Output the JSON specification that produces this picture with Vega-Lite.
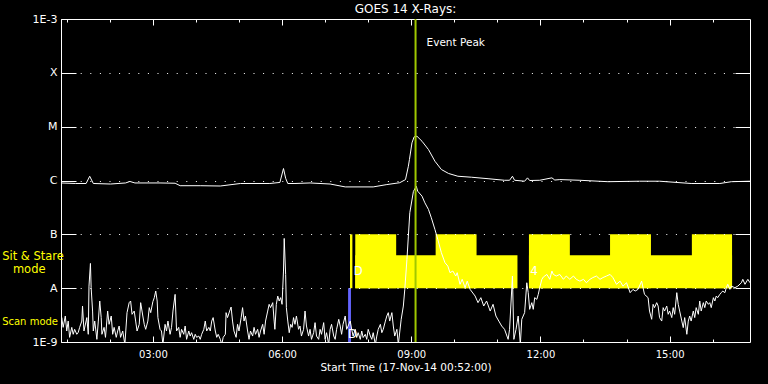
{
  "$schema": "https://vega.github.io/schema/vega-lite/v6.json",
  "width": 689,
  "height": 323,
  "autosize": {"type": "none"},
  "padding": {"left": 61, "top": 19, "right": 18, "bottom": 42},
  "background": "black",
  "title": {"text": "GOES 14 X-Rays:", "color": "white", "font": "DejaVu Sans", "fontSize": 12, "fontWeight": "normal", "offset": -3},
  "config": {
    "view": {"stroke": "white", "strokeWidth": 1},
    "axis": {"labelColor": "white", "tickColor": "white", "labelFont": "DejaVu Sans", "titleFont": "DejaVu Sans", "titleColor": "white", "domain": false, "grid": false, "tickWidth": 1, "labelFontSize": 10, "titleFontWeight": "normal", "labelFlush": false, "labelOverlap": false}
  },
  "datasets": {
    "sitstare": [
      {"t1": 402.7, "t2": 406, "top": 1e-7, "bottom": 1e-8},
      {"t1": 410, "t2": 636, "top": 4.1e-8, "bottom": 1e-8},
      {"t1": 652, "t2": 935, "top": 4.1e-8, "bottom": 1e-8},
      {"t1": 410, "t2": 467, "top": 1e-7, "bottom": 1e-8},
      {"t1": 522, "t2": 579, "top": 1e-7, "bottom": 1e-8},
      {"t1": 652, "t2": 709, "top": 1e-7, "bottom": 1e-8},
      {"t1": 765, "t2": 822, "top": 1e-7, "bottom": 1e-8},
      {"t1": 879, "t2": 935, "top": 1e-7, "bottom": 1e-8}
    ],
    "scan": [
      {"t1": 400, "t2": 404, "top": 1e-8, "bottom": 1e-9}
    ],
    "long": [
      {"t":0,"flux":9.0e-7},{"t":20,"flux":8.8e-7},{"t":35,"flux":8.8e-7},{"t":40,"flux":1.2e-6},{"t":45,"flux":8.8e-7},{"t":69,"flux":8.6e-7},{"t":90,"flux":9.0e-7},{"t":96,"flux":9.6e-7},{"t":103,"flux":9.0e-7},{"t":138,"flux":9.0e-7},{"t":159,"flux":8.9e-7},{"t":166,"flux":8.0e-7},{"t":194,"flux":8.0e-7},{"t":222,"flux":7.9e-7},{"t":250,"flux":8.8e-7},{"t":291,"flux":8.8e-7},{"t":305,"flux":9.2e-7},{"t":310,"flux":1.67e-6},{"t":313,"flux":1.1e-6},{"t":316,"flux":8.8e-7},{"t":326,"flux":8.8e-7},{"t":347,"flux":9.0e-7},{"t":375,"flux":8.6e-7},{"t":396,"flux":7.6e-7},{"t":435,"flux":7.6e-7},{"t":454,"flux":8.4e-7},{"t":472,"flux":9.1e-7},{"t":480,"flux":1.04e-6},{"t":484,"flux":1.84e-6},{"t":485.5,"flux":2.45e-6},{"t":489,"flux":5.0e-6},{"t":492,"flux":6.47e-6},{"t":496,"flux":6.64e-6},{"t":503,"flux":5.36e-6},{"t":512,"flux":3.76e-6},{"t":521,"flux":2.28e-6},{"t":530,"flux":1.6e-6},{"t":540,"flux":1.35e-6},{"t":553,"flux":1.2e-6},{"t":572,"flux":1.15e-6},{"t":595,"flux":1.08e-6},{"t":618,"flux":1.01e-6},{"t":625,"flux":1.01e-6},{"t":629,"flux":1.2e-6},{"t":632,"flux":1.01e-6},{"t":646,"flux":9.7e-7},{"t":650,"flux":1.12e-6},{"t":653,"flux":1.0e-6},{"t":667,"flux":1.01e-6},{"t":684,"flux":1.12e-6},{"t":688,"flux":1.02e-6},{"t":695,"flux":1.04e-6},{"t":723,"flux":1.01e-6},{"t":762,"flux":9.5e-7},{"t":806,"flux":9.7e-7},{"t":834,"flux":9.7e-7},{"t":878,"flux":8.8e-7},{"t":918,"flux":8.8e-7},{"t":934,"flux":9.5e-7},{"t":960,"flux":9.7e-7}
    ],
    "short": [
      {"t":0,"flux":2.0e-9},{"t":1,"flux":2.84e-9},{"t":3,"flux":1.87e-9},{"t":6,"flux":3.04e-9},{"t":8,"flux":1.6e-9},{"t":10,"flux":2.45e-9},{"t":12,"flux":1.22e-9},{"t":15,"flux":1.87e-9},{"t":17,"flux":1.39e-9},{"t":19,"flux":1.72e-9},{"t":22,"flux":1.39e-9},{"t":24,"flux":1.51e-9},{"t":26,"flux":1.87e-9},{"t":29,"flux":2.45e-9},{"t":30,"flux":4.66e-9},{"t":32,"flux":1.6e-9},{"t":36,"flux":2.84e-9},{"t":38,"flux":1.39e-9},{"t":39,"flux":1.09e-8},{"t":41,"flux":2.88e-8},{"t":42,"flux":1.02e-8},{"t":44,"flux":3.76e-9},{"t":45,"flux":1.6e-9},{"t":47,"flux":2.45e-9},{"t":50,"flux":1.12e-9},{"t":52,"flux":2.45e-9},{"t":54,"flux":5.77e-9},{"t":56,"flux":2.84e-9},{"t":57,"flux":1.39e-9},{"t":60,"flux":1.87e-9},{"t":62,"flux":1.22e-9},{"t":65,"flux":3.76e-9},{"t":67,"flux":2.13e-9},{"t":70,"flux":3.04e-9},{"t":72,"flux":1.39e-9},{"t":74,"flux":1.87e-9},{"t":77,"flux":1.22e-9},{"t":79,"flux":1.6e-9},{"t":81,"flux":1.98e-9},{"t":83,"flux":1.22e-9},{"t":86,"flux":1.6e-9},{"t":89,"flux":0.9e-9},{"t":92,"flux":3.51e-9},{"t":95,"flux":5.38e-9},{"t":97,"flux":5.77e-9},{"t":99,"flux":3.27e-9},{"t":102,"flux":3.76e-9},{"t":104,"flux":2.45e-9},{"t":106,"flux":1.6e-9},{"t":109,"flux":2.13e-9},{"t":111,"flux":5.38e-9},{"t":114,"flux":3.04e-9},{"t":116,"flux":2.13e-9},{"t":118,"flux":1.72e-9},{"t":121,"flux":2.45e-9},{"t":123,"flux":4.35e-9},{"t":125,"flux":3.51e-9},{"t":128,"flux":5.62e-9},{"t":130,"flux":6.66e-9},{"t":132,"flux":8.84e-9},{"t":134,"flux":5.77e-9},{"t":135,"flux":2.84e-9},{"t":138,"flux":1.72e-9},{"t":140,"flux":1.6e-9},{"t":142,"flux":0.9e-9},{"t":145,"flux":2.13e-9},{"t":147,"flux":1.6e-9},{"t":149,"flux":2.45e-9},{"t":152,"flux":1.39e-9},{"t":154,"flux":1.87e-9},{"t":156,"flux":3.76e-9},{"t":159,"flux":7.67e-9},
      {"t":161,"flux":1.6e-9},{"t":164,"flux":1.87e-9},{"t":166,"flux":1.22e-9},{"t":168,"flux":1.72e-9},{"t":171,"flux":1.39e-9},{"t":173,"flux":1.98e-9},{"t":175,"flux":1.12e-9},{"t":178,"flux":1.6e-9},{"t":180,"flux":1.29e-9},{"t":182,"flux":1.49e-9},{"t":185,"flux":1.12e-9},{"t":187,"flux":1.39e-9},{"t":189,"flux":1.22e-9},{"t":192,"flux":1.29e-9},{"t":194,"flux":1.12e-9},{"t":196,"flux":1.39e-9},{"t":199,"flux":1.72e-9},{"t":201,"flux":2.45e-9},{"t":203,"flux":1.6e-9},{"t":206,"flux":1.87e-9},{"t":208,"flux":1.6e-9},{"t":210,"flux":2.45e-9},{"t":212,"flux":2.84e-9},{"t":215,"flux":1.6e-9},{"t":217,"flux":1.22e-9},{"t":219,"flux":1.39e-9},{"t":222,"flux":1.12e-9},{"t":224,"flux":0.9e-9},{"t":226,"flux":1.22e-9},{"t":229,"flux":1.39e-9},{"t":230,"flux":3.51e-9},{"t":232,"flux":2.84e-9},{"t":235,"flux":3.76e-9},{"t":237,"flux":4.46e-9},{"t":239,"flux":2.45e-9},{"t":241,"flux":1.6e-9},{"t":244,"flux":1.22e-9},{"t":246,"flux":2.13e-9},{"t":248,"flux":1.6e-9},{"t":251,"flux":2.84e-9},{"t":253,"flux":4.35e-9},{"t":255,"flux":2.45e-9},{"t":257,"flux":3.04e-9},{"t":260,"flux":1.6e-9},{"t":262,"flux":1.12e-9},{"t":264,"flux":1.6e-9},{"t":267,"flux":1.29e-9},{"t":269,"flux":1.87e-9},{"t":271,"flux":1.39e-9},{"t":274,"flux":1.72e-9},{"t":276,"flux":1.22e-9},{"t":278,"flux":1.6e-9},{"t":281,"flux":2.13e-9},{"t":283,"flux":1.39e-9},{"t":285,"flux":2.45e-9},{"t":288,"flux":3.76e-9},{"t":290,"flux":5.01e-9},{"t":292,"flux":4.35e-9},{"t":295,"flux":5.38e-9},{"t":297,"flux":2.45e-9},{"t":298,"flux":1.72e-9},{"t":300,"flux":5.01e-9},{"t":302,"flux":7.14e-9},{"t":304,"flux":5.77e-9},{"t":306,"flux":6.66e-9},{"t":308,"flux":5.01e-9},{"t":310,"flux":2.08e-8},{"t":311,"flux":8.39e-8},{"t":313,"flux":1.8e-8},{"t":314,"flux":4.35e-9},{"t":316,"flux":2.45e-9},{"t":318,"flux":1.49e-9},{"t":320,"flux":2.13e-9},{"t":322,"flux":1.87e-9},{"t":324,"flux":2.84e-9},{"t":326,"flux":2.13e-9},
      {"t":328,"flux":3.04e-9},{"t":331,"flux":1.72e-9},{"t":333,"flux":1.98e-9},{"t":335,"flux":1.29e-9},{"t":338,"flux":1.72e-9},{"t":340,"flux":3.76e-9},{"t":342,"flux":1.98e-9},{"t":345,"flux":1.29e-9},{"t":347,"flux":1.72e-9},{"t":349,"flux":1.12e-9},{"t":352,"flux":1.49e-9},{"t":354,"flux":2.29e-9},{"t":356,"flux":1.29e-9},{"t":359,"flux":1.12e-9},{"t":361,"flux":1.72e-9},{"t":363,"flux":1.39e-9},{"t":366,"flux":2.29e-9},{"t":368,"flux":1.12e-9},{"t":370,"flux":1.49e-9},{"t":373,"flux":0.9e-9},{"t":375,"flux":1.72e-9},{"t":377,"flux":2.13e-9},{"t":380,"flux":1.29e-9},{"t":382,"flux":1.12e-9},{"t":384,"flux":1.72e-9},{"t":387,"flux":2.64e-9},{"t":389,"flux":1.98e-9},{"t":391,"flux":1.39e-9},{"t":393,"flux":2.13e-9},{"t":396,"flux":3.04e-9},{"t":398,"flux":1.72e-9},{"t":400,"flux":1.98e-9},{"t":403,"flux":2.45e-9},{"t":405,"flux":1.72e-9},{"t":407,"flux":1.29e-9},{"t":410,"flux":1.72e-9},{"t":412,"flux":1.21e-9},{"t":414,"flux":1.49e-9},{"t":417,"flux":1.12e-9},{"t":419,"flux":1.6e-9},{"t":421,"flux":1.21e-9},{"t":424,"flux":1.39e-9},{"t":426,"flux":1.12e-9},{"t":428,"flux":1.72e-9},{"t":431,"flux":1.29e-9},{"t":433,"flux":1.12e-9},{"t":435,"flux":1.49e-9},{"t":438,"flux":0.9e-9},{"t":440,"flux":1.29e-9},{"t":442,"flux":1.72e-9},{"t":445,"flux":2.13e-9},{"t":447,"flux":1.49e-9},{"t":449,"flux":1.72e-9},{"t":452,"flux":2.45e-9},{"t":454,"flux":3.04e-9},{"t":456,"flux":3.51e-9},{"t":458,"flux":2.45e-9},{"t":461,"flux":3.51e-9},{"t":463,"flux":1.98e-9},{"t":465,"flux":1.29e-9},{"t":468,"flux":1.72e-9},{"t":470,"flux":0.9e-9},
      {"t":474,"flux":2.64e-9},{"t":477,"flux":4.66e-9},{"t":479,"flux":9.5e-9},{"t":482,"flux":3.42e-8},{"t":484,"flux":9.26e-8},{"t":486,"flux":2.52e-7},{"t":491,"flux":6.25e-7},{"t":495,"flux":7.84e-7},{"t":497,"flux":6.33e-7},{"t":503,"flux":5.12e-7},{"t":507,"flux":3.85e-7},{"t":512,"flux":2.9e-7},{"t":516,"flux":2.03e-7},{"t":521,"flux":1.23e-7},{"t":525,"flux":8.04e-8},{"t":530,"flux":4.56e-8},{"t":535,"flux":2.97e-8},{"t":539,"flux":2.57e-8},{"t":542,"flux":1.94e-8},{"t":546,"flux":2.08e-8},{"t":550,"flux":1.68e-8},{"t":552,"flux":1.94e-8},{"t":556,"flux":1.18e-8},{"t":559,"flux":1.46e-8},{"t":563,"flux":1.02e-8},{"t":566,"flux":1.35e-8},{"t":570,"flux":9.5e-9},{"t":577,"flux":7.14e-9},{"t":581,"flux":5.38e-9},{"t":585,"flux":6.66e-9},{"t":589,"flux":4.66e-9},{"t":593,"flux":5.77e-9},{"t":598,"flux":3.76e-9},{"t":602,"flux":5.01e-9},{"t":606,"flux":3.04e-9},{"t":610,"flux":2.45e-9},{"t":614,"flux":1.98e-9},{"t":618,"flux":1.72e-9},{"t":623,"flux":1.12e-9},{"t":625,"flux":1.72e-9},{"t":629,"flux":1.68e-8},{"t":631,"flux":1.12e-9},{"t":634,"flux":1.72e-9},{"t":637,"flux":3.04e-9},{"t":640,"flux":0.9e-9},{"t":642,"flux":2.64e-9},{"t":646,"flux":3.51e-9},{"t":649,"flux":1.26e-8},{"t":651,"flux":8.25e-9},{"t":653,"flux":4.04e-9},{"t":656,"flux":5.38e-9},{"t":658,"flux":4.04e-9},{"t":660,"flux":6.66e-9},{"t":663,"flux":6.2e-9},{"t":665,"flux":7.67e-9},{"t":667,"flux":1.02e-8},{"t":670,"flux":1.46e-8},{"t":672,"flux":1.61e-8},{"t":677,"flux":1.8e-8},{"t":681,"flux":1.46e-8},{"t":684,"flux":2.08e-8},{"t":686,"flux":1.8e-8},{"t":690,"flux":1.68e-8},{"t":695,"flux":1.8e-8},{"t":700,"flux":1.46e-8},{"t":704,"flux":1.68e-8},{"t":709,"flux":1.46e-8},{"t":714,"flux":1.68e-8},{"t":718,"flux":1.46e-8},{"t":723,"flux":1.35e-8},{"t":728,"flux":1.46e-8},{"t":732,"flux":1.26e-8},{"t":737,"flux":1.46e-8},{"t":741,"flux":1.57e-8},{"t":746,"flux":1.68e-8},{"t":751,"flux":1.46e-8},{"t":755,"flux":1.57e-8},{"t":760,"flux":1.68e-8},{"t":765,"flux":1.8e-8},{"t":769,"flux":1.57e-8},{"t":774,"flux":1.18e-8},{"t":779,"flux":1.35e-8},{"t":783,"flux":1.09e-8},{"t":788,"flux":1.26e-8},{"t":793,"flux":8.25e-9},{"t":797,"flux":9.5e-9},{"t":800,"flux":8.84e-9},{"t":804,"flux":9.5e-9},{"t":809,"flux":1.35e-8},{"t":813,"flux":7.67e-9},{"t":818,"flux":6.66e-9},{"t":820,"flux":3.76e-9},{"t":823,"flux":2.64e-9},{"t":825,"flux":5.01e-9},{"t":827,"flux":4.35e-9},{"t":830,"flux":5.38e-9},{"t":832,"flux":4.66e-9},{"t":834,"flux":2.84e-9},{"t":837,"flux":2.45e-9},{"t":839,"flux":4.35e-9},{"t":841,"flux":3.76e-9},{"t":844,"flux":4.66e-9},{"t":846,"flux":3.27e-9},{"t":848,"flux":3.76e-9},{"t":851,"flux":2.84e-9},{"t":853,"flux":4.35e-9},{"t":855,"flux":3.27e-9},{"t":858,"flux":8.25e-9},{"t":860,"flux":5.01e-9},{"t":862,"flux":3.76e-9},{"t":865,"flux":2.45e-9},{"t":867,"flux":1.85e-9},{"t":869,"flux":2.84e-9},{"t":872,"flux":1.39e-9},{"t":874,"flux":2.45e-9},{"t":876,"flux":3.04e-9},{"t":878,"flux":2.45e-9},{"t":881,"flux":3.76e-9},{"t":883,"flux":2.84e-9},{"t":885,"flux":4.35e-9},{"t":888,"flux":3.27e-9},{"t":890,"flux":5.77e-9},{"t":892,"flux":3.76e-9},{"t":895,"flux":5.38e-9},{"t":897,"flux":4.35e-9},{"t":899,"flux":5.77e-9},{"t":902,"flux":5.01e-9},{"t":904,"flux":5.38e-9},{"t":906,"flux":4.35e-9},{"t":909,"flux":6.66e-9},{"t":911,"flux":5.77e-9},{"t":913,"flux":7.14e-9},{"t":915,"flux":6.66e-9},{"t":918,"flux":7.67e-9},{"t":920,"flux":8.25e-9},{"t":922,"flux":8.84e-9},{"t":925,"flux":8.25e-9},{"t":927,"flux":1.02e-8},{"t":929,"flux":1.18e-8},{"t":932,"flux":9.5e-9},{"t":934,"flux":1.09e-8},{"t":939,"flux":1.02e-8},{"t":943,"flux":1.09e-8},{"t":948,"flux":1.26e-8},{"t":950,"flux":1.46e-8},{"t":953,"flux":1.18e-8},{"t":957,"flux":1.46e-8},{"t":960,"flux":1.26e-8}
    ],
    "peak": [{"t": 494, "flux": 3.6e-4, "label": "Event Peak"}],
    "modelabels": [
      {"label": "Sit & Stare", "t": -82, "flux": 3.73e-8},
      {"label": "mode", "t": -67, "flux": 2.14e-8},
      {"label": "Scan mode", "t": -82, "flux": 2.32e-9}
    ],
    "marks": [
      {"label": "D", "t": 414, "flux": 2.05e-8},
      {"label": "D", "t": 406, "flux": 1.42e-9},
      {"label": "4", "t": 659, "flux": 2.08e-8}
    ]
  },
  "layer": [
    {
      "data": {"name": "sitstare"},
      "mark": {"type": "rect", "color": "#ffff00"},
      "encoding": {
        "x": {"field": "t1", "type": "quantitative", "scale": {"domain": [0, 960], "nice": false, "zero": false},
              "axis": {"orient": "bottom", "values": [128, 308, 488, 668, 848], "tickSize": -6, "labelPadding": 13,
                       "labelExpr": "(floor((datum.value+52)/60) < 10 ? '0' : '') + floor((datum.value+52)/60) + ':00'",
                       "title": "Start Time (17-Nov-14 00:52:00)", "titleFontSize": 10.5, "titlePadding": 3}},
        "x2": {"field": "t2"},
        "y": {"field": "top", "type": "quantitative", "scale": {"type": "log", "domain": [1e-9, 1e-3], "nice": false},
              "axis": {"orient": "left", "values": [1e-9, 1e-8, 1e-7, 1e-6, 1e-5, 1e-4, 1e-3], "tickSize": -15, "labelPadding": 19, "labelFontSize": 11,
                       "labelExpr": "datum.value < 5e-9 ? '1E-9' : datum.value < 5e-8 ? 'A' : datum.value < 5e-7 ? 'B' : datum.value < 5e-6 ? 'C' : datum.value < 5e-5 ? 'M' : datum.value < 5e-4 ? 'X' : '1E-3'",
                       "grid": true, "gridColor": "white", "gridDash": [1, 8.6], "gridWidth": 1, "gridOpacity": 1, "zindex": 1, "title": null}},
        "y2": {"field": "bottom"}
      }
    },
    {
      "data": {"name": "scan"},
      "mark": {"type": "rect", "color": "#6464ff"},
      "encoding": {
        "x": {"field": "t1", "type": "quantitative",
              "axis": {"orient": "bottom", "values": [8, 68, 128, 188, 248, 308, 368, 428, 488, 548, 608, 668, 728, 788, 848, 908], "tickSize": -3, "labels": false, "title": null}},
        "x2": {"field": "t2"},
        "y": {"field": "top", "type": "quantitative",
              "axis": {"orient": "right", "values": [1e-8, 1e-7, 1e-6, 1e-5, 1e-4], "tickSize": -15, "labels": false, "title": null}},
        "y2": {"field": "bottom"}
      }
    },
    {
      "data": {"name": "long"},
      "mark": {"type": "line", "color": "white", "strokeWidth": 1, "clip": true},
      "encoding": {
        "x": {"field": "t", "type": "quantitative",
              "axis": {"orient": "top", "values": [128, 308, 488, 668, 848], "tickSize": -6, "labels": false, "title": null}},
        "y": {"field": "flux", "type": "quantitative", "axis": null}
      }
    },
    {
      "data": {"name": "short"},
      "mark": {"type": "line", "color": "white", "strokeWidth": 1, "clip": true},
      "encoding": {
        "x": {"field": "t", "type": "quantitative",
              "axis": {"orient": "top", "values": [8, 68, 128, 188, 248, 308, 368, 428, 488, 548, 608, 668, 728, 788, 848, 908], "tickSize": -3, "labels": false, "title": null}},
        "y": {"field": "flux", "type": "quantitative", "axis": null}
      }
    },
    {
      "data": {"name": "peak"},
      "mark": {"type": "rule", "color": "#a0c800", "strokeWidth": 2},
      "encoding": {
        "x": {"field": "t", "type": "quantitative", "axis": null}
      }
    },
    {
      "data": {"name": "peak"},
      "mark": {"type": "text", "color": "white", "font": "DejaVu Sans", "fontSize": 10.5, "align": "left", "baseline": "middle", "dx": 11},
      "encoding": {
        "x": {"field": "t", "type": "quantitative", "axis": null},
        "y": {"field": "flux", "type": "quantitative", "axis": null},
        "text": {"field": "label"}
      }
    },
    {
      "data": {"name": "marks"},
      "mark": {"type": "text", "color": "white", "font": "DejaVu Sans", "fontSize": 12, "align": "center", "baseline": "middle"},
      "encoding": {
        "x": {"field": "t", "type": "quantitative", "axis": null},
        "y": {"field": "flux", "type": "quantitative", "axis": null},
        "text": {"field": "label"}
      }
    },
    {
      "data": {"name": "modelabels"},
      "transform": [{"filter": "datum.label != 'Scan mode'"}],
      "mark": {"type": "text", "color": "#ffff00", "font": "DejaVu Sans", "fontSize": 11.5, "align": "left", "baseline": "middle"},
      "encoding": {
        "x": {"field": "t", "type": "quantitative", "axis": null},
        "y": {"field": "flux", "type": "quantitative", "axis": null},
        "text": {"field": "label"}
      }
    },
    {
      "data": {"name": "modelabels"},
      "transform": [{"filter": "datum.label == 'Scan mode'"}],
      "mark": {"type": "text", "color": "#ffff00", "font": "DejaVu Sans", "fontSize": 10, "align": "left", "baseline": "middle"},
      "encoding": {
        "x": {"field": "t", "type": "quantitative", "axis": null},
        "y": {"field": "flux", "type": "quantitative", "axis": null},
        "text": {"field": "label"}
      }
    }
  ],
  "resolve": {"axis": {"x": "independent", "y": "independent"}}
}
